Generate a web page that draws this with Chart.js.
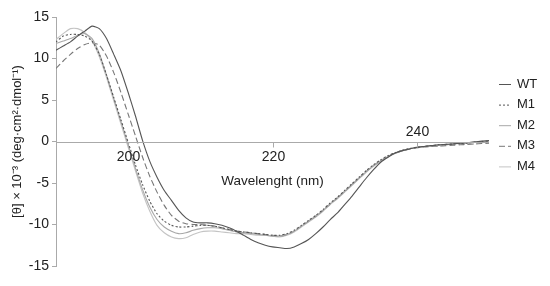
<!DOCTYPE html>
<html>
<head>
<meta charset="utf-8">
<script src="https://cdn.jsdelivr.net/npm/chart.js@4/dist/chart.umd.min.js"></script>
<style>
  html, body { margin: 0; padding: 0; background: #fff; }
  #wrap { width: 550px; height: 286px; }
</style>
</head>
<body>
<div id="wrap"><canvas id="cdChart" width="550" height="286"></canvas></div>
<script>
// wavelength (nm)
const wavelengths = [190, 191, 192, 193, 194, 195, 196, 197, 198, 199,
  200, 201, 202, 203, 204, 205, 206, 207, 208, 209,
  210, 211, 212, 213, 214, 215, 216, 217, 218, 219,
  220, 221, 222, 223, 224, 225, 226, 227, 228, 229,
  230, 231, 232, 233, 234, 235, 236, 237, 238, 239,
  240, 241, 242, 243, 244, 245, 246, 247, 248, 249, 250];

const seriesNames = ['WT', 'M1', 'M2', 'M3', 'M4'];

const wt = [11.0, 11.5, 12.0, 12.7, 13.3, 13.9, 13.6, 12.4, 10.5, 8.5,
  5.9, 3.1, 0.1, -2.4, -4.3, -5.9, -7.1, -8.3, -9.2, -9.7,
  -9.8, -9.8, -9.9, -10.1, -10.4, -10.8, -11.3, -11.8, -12.2, -12.5,
  -12.7, -12.8, -12.9, -12.7, -12.3, -11.8, -11.1, -10.3, -9.4, -8.6,
  -7.6, -6.6, -5.5, -4.4, -3.4, -2.5, -1.9, -1.4, -1.1, -0.9,
  -0.7, -0.6, -0.5, -0.4, -0.35, -0.3, -0.2, -0.15, -0.05, 0.05, 0.1];

const m1 = [12.0, 12.7, 12.9, 12.9, 12.7, 12.1, 10.5, 8.0, 5.3, 2.6,
  -0.1, -2.8, -5.2, -7.2, -8.7, -9.6, -10.1, -10.3, -10.3, -10.2,
  -10.1, -10.1, -10.2, -10.4, -10.6, -10.8, -10.9, -11.0, -11.1, -11.2,
  -11.3, -11.3, -11.1, -10.7, -10.1, -9.5, -8.9, -8.2, -7.4, -6.7,
  -5.9, -5.1, -4.3, -3.5, -2.8, -2.2, -1.7, -1.35, -1.05, -0.85,
  -0.7, -0.6, -0.5, -0.4, -0.35, -0.3, -0.25, -0.2, -0.1, 0.0, 0.05];

const m2 = [11.8, 12.1, 12.4, 12.8, 13.0, 12.4, 10.6, 8.0, 5.2, 2.4,
  -0.4, -3.2, -5.8, -7.9, -9.4, -10.3, -10.8, -11.1, -11.0, -10.7,
  -10.5, -10.4, -10.4, -10.5, -10.7, -10.9, -11.0, -11.1, -11.2, -11.3,
  -11.4, -11.4, -11.2, -10.8, -10.2, -9.6, -9.0, -8.3, -7.5, -6.8,
  -6.0, -5.2, -4.4, -3.6, -2.9, -2.3, -1.8, -1.4, -1.1, -0.9,
  -0.7, -0.6, -0.5, -0.45, -0.4, -0.3, -0.25, -0.15, -0.1, 0.0, 0.1];

const m3 = [8.8, 9.7, 10.5, 11.2, 11.7, 11.9, 11.6, 10.3, 8.3, 5.9,
  3.3, 0.7, -1.9, -4.2, -6.1, -7.7, -8.9, -9.6, -9.9, -10.0,
  -10.0, -10.1, -10.2, -10.4, -10.6, -10.8, -10.9, -11.0, -11.1, -11.2,
  -11.3, -11.4, -11.2, -10.8, -10.2, -9.6, -9.0, -8.3, -7.5, -6.8,
  -6.0, -5.2, -4.4, -3.6, -2.9, -2.3, -1.8, -1.4, -1.1, -0.9,
  -0.75, -0.65, -0.6, -0.55, -0.5, -0.45, -0.4, -0.35, -0.3, -0.25, -0.2];

const m4 = [12.3, 13.0, 13.6, 13.6, 13.1, 12.1, 10.2, 7.7, 4.9, 2.1,
  -0.7, -3.5, -6.2, -8.4, -10.1, -11.0, -11.5, -11.7, -11.6, -11.2,
  -10.9, -10.8, -10.8, -10.9, -11.0, -11.1, -11.1, -11.2, -11.3, -11.3,
  -11.4, -11.5, -11.3, -10.9, -10.3, -9.7, -9.1, -8.4, -7.6, -6.9,
  -6.1, -5.3, -4.5, -3.7, -3.0, -2.4, -1.9, -1.45, -1.15, -0.9,
  -0.75, -0.6, -0.5, -0.45, -0.4, -0.3, -0.2, -0.15, -0.1, 0.0, 0.05];

const xTickLabels = [200, 220, 240];
const yTickLabels = [-15, -10, -5, 0, 5, 10, 15];

const FONT = '"Liberation Sans", Arial, sans-serif';

// line looks for each series
const styles = [
  { color: '#555555', dash: [] },
  { color: '#555555', dash: [2, 2] },
  { color: '#a8a8a8', dash: [] },
  { color: '#777777', dash: [6, 3] },
  { color: '#c4c4c4', dash: [] }
];

const allSeries = [wt, m1, m2, m3, m4];

const datasets = allSeries.map((vals, i) => ({
  label: seriesNames[i],
  data: vals.map((v, j) => ({ x: wavelengths[j], y: v })),
  borderColor: styles[i].color,
  borderDash: styles[i].dash,
  borderWidth: 1.1,
  pointRadius: 0,
  tension: 0.2,
  fill: false
}));

// x axis drawn at y = 0, with labels + title, plus legend and y title
const extras = {
  id: 'extras',
  afterDraw(chart) {
    const { ctx, scales: { x, y } } = chart;
    const y0 = Math.round(y.getPixelForValue(0)) + 0.5;
    ctx.save();
    ctx.strokeStyle = '#aaaaaa';
    ctx.lineWidth = 1;
    ctx.setLineDash([]);
    ctx.beginPath();
    ctx.moveTo(x.getPixelForValue(wavelengths[0]), y0);
    ctx.lineTo(x.getPixelForValue(wavelengths[wavelengths.length - 1]), y0);
    ctx.stroke();

    ctx.fillStyle = '#222';
    ctx.font = '14px ' + FONT;
    ctx.textAlign = 'center';
    ctx.textBaseline = 'middle';
    xTickLabels.forEach((t, i) => {
      const px = Math.round(x.getPixelForValue(t)) + 0.5;
      ctx.beginPath();
      ctx.moveTo(px, y0);
      ctx.lineTo(px, y0 + 5);
      ctx.stroke();
      // the last label sits above the axis in the original
      const ly = i === xTickLabels.length - 1 ? y0 - 10 : y0 + 15;
      ctx.fillText(String(t), px, ly);
    });

    ctx.font = '13.5px ' + FONT;
    ctx.fillText('Wavelenght (nm)', x.getPixelForValue(220), y0 + 39);

    // y title
    ctx.save();
    ctx.translate(17, (y.top + y.bottom) / 2);
    ctx.rotate(-Math.PI / 2);
    ctx.font = '13px ' + FONT;
    ctx.fillText('[\u03b8] \u00d7 10\u207b\u00b3 (deg\u00b7cm\u00b2\u00b7dmol\u207b\u00b9)', 0, 0);
    ctx.restore();

    // legend
    ctx.font = '13px ' + FONT;
    ctx.textAlign = 'left';
    chart.data.datasets.forEach((ds, i) => {
      const ly = 84 + i * 20.6;
      ctx.strokeStyle = ds.borderColor;
      ctx.setLineDash(ds.borderDash);
      ctx.beginPath();
      ctx.moveTo(499, ly + 0.5);
      ctx.lineTo(511, ly + 0.5);
      ctx.stroke();
      ctx.fillStyle = '#222';
      ctx.fillText(ds.label, 517, ly);
    });
    ctx.restore();
  }
};

const ctx = document.getElementById('cdChart').getContext('2d');
new Chart(ctx, {
  type: 'line',
  data: { datasets: datasets },
  options: {
    responsive: false,
    animation: false,
    layout: { padding: { top: 17, bottom: 20, left: 0, right: 61 } },
    plugins: { legend: { display: false }, tooltip: { enabled: false } },
    scales: {
      x: {
        type: 'linear',
        min: 190,
        max: 250,
        display: false
      },
      y: {
        min: -15,
        max: 15,
        afterFit(scale) { scale.width = 56; },
        afterBuildTicks(scale) { scale.ticks = yTickLabels.map(v => ({ value: v })); },
        border: { color: '#aaaaaa', width: 1 },
        grid: { drawOnChartArea: false, tickLength: 4, color: '#aaaaaa' },
        ticks: {
          color: '#222',
          padding: 3,
          font: { size: 14, family: FONT }
        }
      }
    }
  },
  plugins: [extras]
});
</script>
</body>
</html>
